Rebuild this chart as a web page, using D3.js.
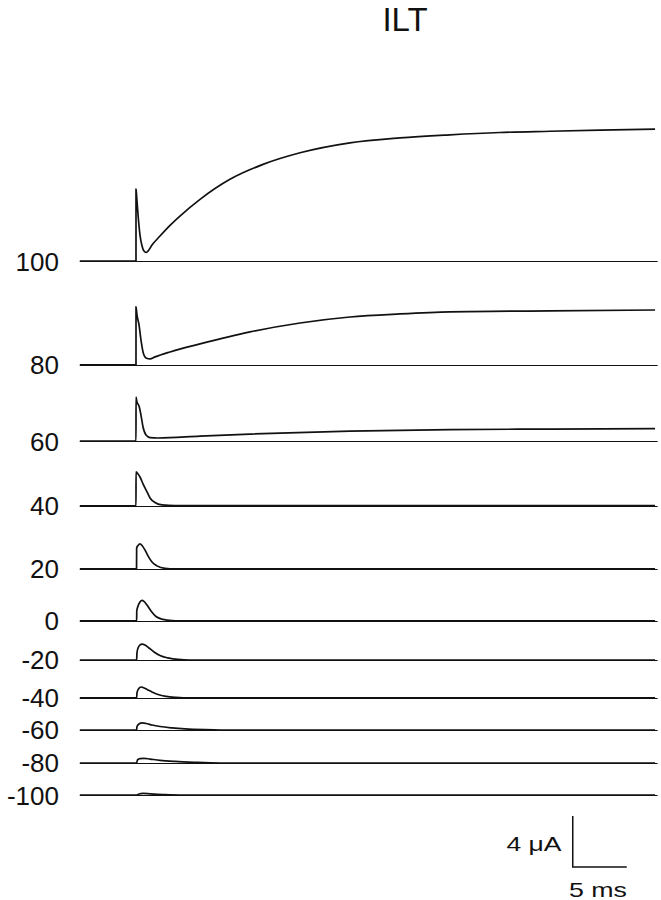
<!DOCTYPE html>
<html>
<head>
<meta charset="utf-8">
<script src="https://cdn.jsdelivr.net/npm/d3@7"></script>
<style>
  html, body { margin: 0; padding: 0; background: #fff; }
  svg { display: block; }
  text { font-family: "Liberation Sans", Arial, Helvetica, sans-serif; fill: #111; }
</style>
</head>
<body>
<svg id="chart" width="661" height="900"></svg>
<script>
// ---------- data ----------
const title = "ILT";
const voltages = [100, 80, 60, 40, 20, 0, -20, -40, -60, -80, -100];       // mV test potential
const stackOffsets = [41.88, 33.73, 27.76, 22.67, 17.73, 13.65, 10.59, 7.61, 5.10, 2.51, 0]; // μA display offset of each trace
const preStepStart = -5.2;   // ms
const baselineEnd = 48.3;    // ms
const scaleBarCurrent = 4;   // μA
const scaleBarTime = 5;      // ms
const scaleBarLabels = ["4 μA", "5 ms"];
const scaleBarOrigin = [40.44, -5.65]; // [ms, μA] in the stacked frame

// each trace: [time ms, current μA]
const trace100 = [[-5.2,0],[0,0],[0.001,5.65],[0.05,5.18],[0.19,3.61],[0.37,2.04],[0.56,1.18],[0.74,0.78],[0.93,0.67],[1.11,0.78],[1.48,1.25],[2.22,1.96],[3.15,2.80],[4.07,3.53],[5.93,4.84],[8.70,6.41],[11.76,7.58],[15.19,8.49],[19.81,9.27],[24.44,9.66],[29.07,9.90],[33.70,10.08],[38.33,10.18],[42.96,10.27],[48.06,10.35]];
const trace80 = [[-5.2,0],[0,0],[0.001,4.55],[0.09,3.92],[0.28,3.14],[0.46,1.96],[0.65,1.02],[0.93,0.55],[1.30,0.47],[1.76,0.63],[3.15,1.02],[5.93,1.65],[10.56,2.59],[15.19,3.29],[19.81,3.76],[24.44,4.00],[29.07,4.16],[38.33,4.24],[48.06,4.31]];
const trace60 = [[-5.2,0],[0,0],[0.001,3.45],[0.09,3.06],[0.28,2.75],[0.46,2.04],[0.65,1.10],[0.93,0.47],[1.30,0.27],[2.04,0.24],[5.93,0.39],[10.56,0.55],[19.81,0.78],[29.07,0.90],[38.33,0.94],[48.06,0.98]];
const trace40 = [[-5.2,0],[0,0],[0.001,2.67],[0.19,2.51],[0.37,2.27],[0.65,1.73],[1.02,1.10],[1.30,0.63],[1.76,0.27],[2.41,0.08],[3.61,0.02],[48.06,0.02]];
const trace20 = [[-5.2,0],[0.05,0],[0.06,1.65],[0.19,1.84],[0.37,1.96],[0.56,1.84],[0.83,1.49],[1.11,1.02],[1.48,0.55],[1.94,0.24],[2.69,0.04],[3.61,0],[48.06,0]];
const trace0 = [[-5.2,0],[0.06,0],[0.07,0.78],[0.19,1.18],[0.37,1.49],[0.56,1.61],[0.74,1.53],[1.02,1.25],[1.39,0.78],[1.85,0.35],[2.50,0.12],[3.33,0.02],[4.07,0],[48.06,0]];
const traceM20 = [[-5.2,0],[0.06,0],[0.09,0.55],[0.19,0.94],[0.37,1.18],[0.56,1.25],[0.83,1.18],[1.20,0.94],[1.67,0.63],[2.22,0.35],[2.96,0.16],[3.89,0.04],[5.0,0],[48.06,0]];
const traceM40 = [[-5.2,0],[0.06,0],[0.09,0.39],[0.23,0.71],[0.46,0.86],[0.65,0.82],[1.02,0.67],[1.48,0.47],[2.04,0.27],[2.78,0.12],[3.70,0.04],[5.0,0],[48.06,0]];
const traceM60 = [[-5.2,0],[0.06,0],[0.09,0.27],[0.28,0.47],[0.56,0.55],[0.93,0.51],[1.48,0.39],[2.22,0.27],[3.33,0.16],[4.54,0.08],[6.39,0.02],[7.8,0],[48.06,0]];
const traceM80 = [[-5.2,0],[0.06,0],[0.14,0.24],[0.37,0.35],[0.74,0.37],[1.30,0.31],[2.22,0.21],[3.61,0.12],[5.46,0.05],[7.8,0],[48.06,0]];
const traceM100 = [[-5.2,0],[0.09,0],[0.28,0.08],[0.65,0.12],[1.30,0.09],[2.69,0.03],[4.07,0],[48.06,0]];
const traces = [trace100, trace80, trace60, trace40, trace20, trace0, traceM20, traceM40, traceM60, traceM80, traceM100];

// ---------- drawing ----------
const svg = d3.select("#chart");
const x = d3.scaleLinear().domain([0, 50]).range([136, 676]);   // 10.8 px per ms
const y = d3.scaleLinear().domain([0, 4]).range([795, 744]);    // 12.75 px per μA
const ink = "#111";

svg.append("text")
  .attr("x", 405).attr("y", 31)
  .attr("text-anchor", "middle")
  .attr("font-size", 33)
  .text(title);

const line = d3.line().curve(d3.curveMonotoneX);

voltages.forEach((v, i) => {
  const off = stackOffsets[i];
  const by = Math.round(y(off)) + 0.5;
  // zero-current reference line
  svg.append("line")
    .attr("x1", x(preStepStart)).attr("x2", x(baselineEnd))
    .attr("y1", by).attr("y2", by)
    .attr("stroke", ink).attr("stroke-width", 1);
  // current trace
  svg.append("path")
    .attr("d", line(traces[i].map(d => [x(d[0]), y(d[1] + off)])))
    .attr("fill", "none")
    .attr("stroke", ink)
    .attr("stroke-width", 1.7)
    .attr("stroke-linejoin", "round");
  // voltage label
  svg.append("text")
    .attr("x", 59).attr("y", y(off) + 9.5)
    .attr("text-anchor", "end")
    .attr("font-size", 26)
    .text(v);
});

// scale bar
const [t0, i0] = scaleBarOrigin;
svg.append("path")
  .attr("d", `M${x(t0)},${y(i0 + scaleBarCurrent)}V${y(i0)}H${x(t0 + scaleBarTime)}`)
  .attr("fill", "none").attr("stroke", ink).attr("stroke-width", 1.5);
svg.append("text")
  .attr("x", 506.5).attr("y", 851)
  .attr("font-size", 21)
  .attr("textLength", 55).attr("lengthAdjust", "spacingAndGlyphs")
  .text(scaleBarLabels[0]);
svg.append("text")
  .attr("x", 569).attr("y", 897)
  .attr("font-size", 21)
  .attr("textLength", 58).attr("lengthAdjust", "spacingAndGlyphs")
  .text(scaleBarLabels[1]);
</script>
</body>
</html>
